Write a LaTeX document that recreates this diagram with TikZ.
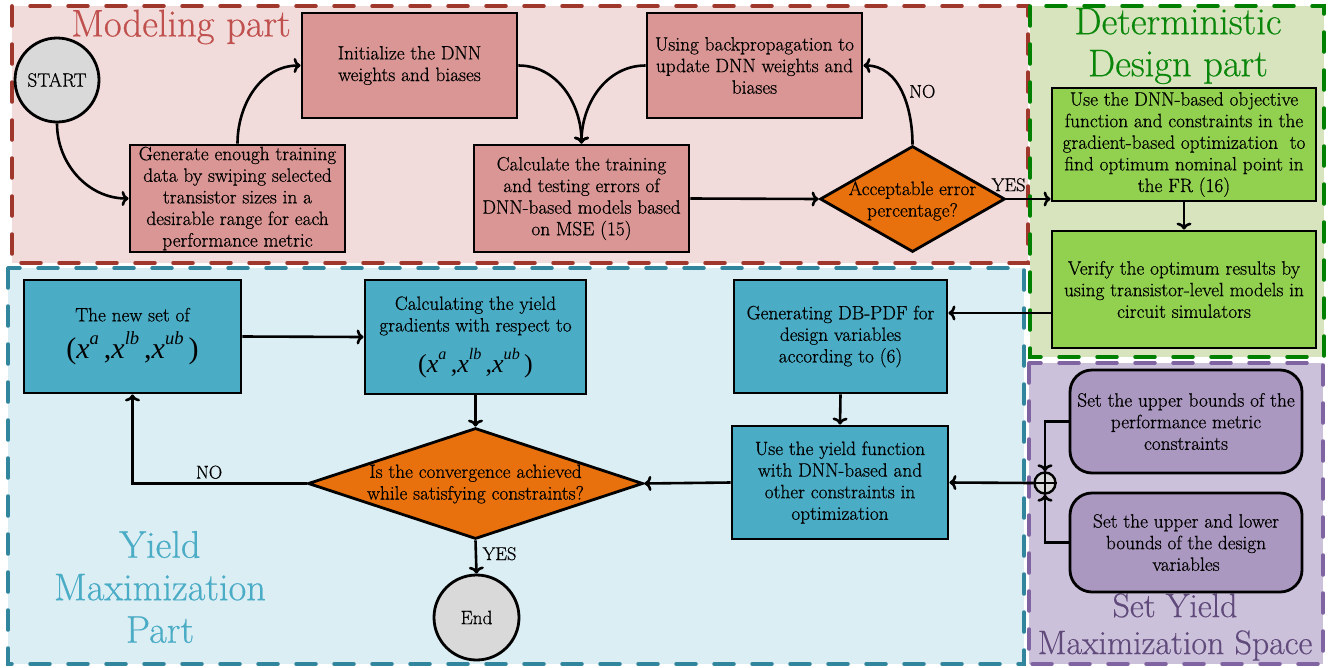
\documentclass[tikz,border=0pt]{standalone}
\usepackage{fontspec}
\usepackage{graphicx}
\newfontfamily\bodyfont{Latin Modern Roman}[FakeBold=0.6]
\newfontfamily\titlefont{Latin Modern Roman}[FakeBold=0.5]
\newfontfamily\tmsup{Liberation Serif}
\newfontfamily\tmsit{Liberation Serif Italic}
\newcommand\xsup[1]{{\tmsit x}\raisebox{0.48em}{\scalebox{0.62}{\tmsit #1}}}
\newcommand\xtriple{{\tmsup(}\xsup{a}\,{\tmsup,}\xsup{lb}\,{\tmsup,}\xsup{ub}\,{\tmsup)}}
\usetikzlibrary{arrows.meta,shapes.geometric,calc}
\definecolor{modfill}{RGB}{242,220,219}
\definecolor{modbox}{RGB}{217,150,148}
\definecolor{moddash}{RGB}{160,55,45}
\definecolor{modtitle}{RGB}{192,80,77}
\definecolor{detfill}{RGB}{215,228,189}
\definecolor{detbox}{RGB}{146,208,80}
\definecolor{detdash}{RGB}{0,128,0}
\definecolor{dettitle}{RGB}{10,135,10}
\definecolor{yldfill}{RGB}{219,238,244}
\definecolor{yldbox}{RGB}{75,172,198}
\definecolor{ylddash}{RGB}{49,133,156}
\definecolor{yldtitle}{RGB}{75,172,198}
\definecolor{spcfill}{RGB}{204,193,218}
\definecolor{spcbox}{RGB}{170,152,192}
\definecolor{spcdash}{RGB}{128,100,162}
\definecolor{spctitle}{RGB}{96,74,123}
\definecolor{decor}{RGB}{232,113,14}
\definecolor{termfill}{RGB}{217,217,217}
\tikzset{
  region/.style={line width=3.5pt, dash pattern=on 20pt off 18pt, line cap=round},
  txt/.style={align=center, font=\bodyfont\fontsize{19.3}{21.6}\selectfont},
  box/.style={txt, draw=black, line width=2.8pt, inner sep=1pt},
  redbox/.style={box, fill=modbox},
  greenbox/.style={box, fill=detbox},
  bluebox/.style={box, fill=yldbox},
  purplebox/.style={box, fill=spcbox, rounded corners=22pt},
  decision/.style={draw=black, line width=2.8pt, fill=decor, shape=diamond, inner sep=0pt},
  terminal/.style={txt, draw=black, line width=2.8pt, fill=termfill, circle, inner sep=0pt},
  arr/.style={line width=2.6pt, -{To[length=7pt,width=15pt]}},
  title/.style={align=center, font=\titlefont\fontsize{38.5}{42}\selectfont},
  lbl/.style={font=\bodyfont\fontsize{18.5}{20}\selectfont},
}
\begin{document}
\begin{tikzpicture}[x=1pt,y=-1pt]
\useasboundingbox (0,0) rectangle (1332,667);
\fill[white] (0,0) rectangle (1332,667);
% regions
\filldraw[region, fill=modfill, draw=moddash] (12,6) rectangle (1028,263);
\filldraw[region, fill=yldfill, draw=ylddash] (8,268) rectangle (1024,664);
\filldraw[region, fill=detfill, draw=detdash] (1030,6) rectangle (1324,357);
\filldraw[region, fill=spcfill, draw=spcdash] (1029,363) rectangle (1323,664);
% titles
\node[title, text=modtitle] (tmod) at (181,27) {Modeling part};
\node[title, text=dettitle] (tdet) at (1178,46) {Deterministic\\Design part};
\node[title, text=yldtitle, font=\titlefont\fontsize{38.5}{42.5}\selectfont] (tyld) at (160,587) {Yield\\Maximization\\Part};
\node[title, text=spctitle, font=\titlefont\fontsize{33.9}{37}\selectfont] (tspc) at (1175,627) {Set Yield\\Maximization Space};
% modeling nodes
\node[terminal, minimum size=84pt] (start) at (57,80) {START};
\node[redbox, minimum width=215pt, minimum height=105pt] (init) at (409.5,65.5) {Initialize the DNN\\weights and biases};
\node[redbox, minimum width=215pt, minimum height=107pt] (gen) at (237.5,198.5) {Generate enough training\\data by swiping selected\\transistor sizes in a\\desirable range for each\\performance metric};
\node[redbox, minimum width=215pt, minimum height=105pt] (back) at (754.5,65.5) {Using backpropagation to\\update DNN weights and\\biases};
\node[redbox, minimum width=215pt, minimum height=107pt] (calc) at (581.5,198.5) {Calculate the training\\and testing errors of\\DNN-based models based\\on MSE (15)};
\node[decision, minimum width=185pt, minimum height=106pt] (acc) at (912.5,199) {};
\node[txt] (acct) at (912.5,201) {Acceptable error\\percentage?};
% deterministic nodes
\node[greenbox, minimum width=264pt, minimum height=113pt] (g1) at (1184,144.5) {Use the DNN-based objective\\function and constraints in the\\gradient-based optimization\ \ to\\find optimum nominal point in\\the FR (16)};
\node[greenbox, minimum width=264pt, minimum height=117pt] (g2) at (1184,289.5) {Verify the optimum results by\\using transistor-level models in\\circuit simulators};
% yield nodes
\node[bluebox, minimum width=217pt, minimum height=113pt] (ns) at (132.5,336.5) {The new set of\\[9pt]{\fontsize{30}{31}\selectfont\xtriple}};
\node[bluebox, minimum width=221pt, minimum height=114pt] (cy) at (475.5,337) {Calculating the yield\\gradients with respect to\\[12pt]{\fontsize{26}{27}\selectfont\xtriple}};
\node[bluebox, minimum width=213pt, minimum height=113pt] (gen2) at (840.5,336.5) {Generating DB-PDF for\\design variables\\according to (6)};
\node[bluebox, minimum width=216pt, minimum height=113pt] (uy) at (840,482.5) {Use the yield function\\with DNN-based and\\other constraints in\\optimization};
\node[decision, minimum width=335pt, minimum height=111pt] (conv) at (475.5,483.5) {};
\node[txt] (convt) at (475.5,484) {Is the convergence achieved\\while satisfying constraints?};
\node[terminal, minimum size=85pt] (end) at (476.5,617.5) {End};
% space nodes
\node[purplebox, minimum width=232pt, minimum height=103pt] (p1) at (1186,421.5) {Set the upper bounds of the\\performance metric\\constraints};
\node[purplebox, minimum width=232pt, minimum height=99pt] (p2) at (1186,542.5) {Set the upper and lower\\bounds of the design\\variables};
\node[circle, draw=black, line width=2.4pt, fill=termfill, minimum size=21pt, inner sep=0pt] (junc) at (1045,483) {};
\draw[line width=2.2pt] (junc.north) -- (junc.south) (junc.west) -- (junc.east);
% connectors modeling
\draw[arr] (start.south) to[out=-90,in=180] (gen.west);
\draw[arr] (gen.north) to[out=90,in=180] (init.west);
\draw[arr] (init.east) to[out=0,in=90] (calc.north);
\draw[arr] (back.west) to[out=180,in=90] (calc.north);
\draw[arr] (calc.east) -- (acc.west);
\draw[arr] (acc.north) to[out=90,in=0] node[lbl, pos=0.5, right=3pt] {NO} (back.east);
\draw[arr] (acc.east) -- node[lbl, above=3pt, pos=0.05] {YES} (acc.east -| g1.west);
% connectors deterministic
\draw[arr] (g1.south) -- (g2.north);
\draw[arr] ([yshift=-23.5pt]g2.west) -- ([yshift=-23.5pt]g2.west -| gen2.east);
% connectors yield
\draw[arr] (gen2.south) -- (uy.north);
\draw[arr] (p1.west) -| (junc.north);
\draw[arr] (p2.west) -| (junc.south);
\draw[arr] (junc.west) -- (uy.east);
\draw[arr] (uy.west) -- (conv.east);
\draw[arr] (cy.south) -- (conv.north);
\draw[arr] (ns.east) -- (cy.west);
\draw[arr] (conv.west) -| node[lbl, pos=0.28, above=0pt] {NO} (ns.south);
\draw[arr] (conv.south) -- node[lbl, right=2pt, pos=0.4] {YES} (end.north);
\end{tikzpicture}
\end{document}
